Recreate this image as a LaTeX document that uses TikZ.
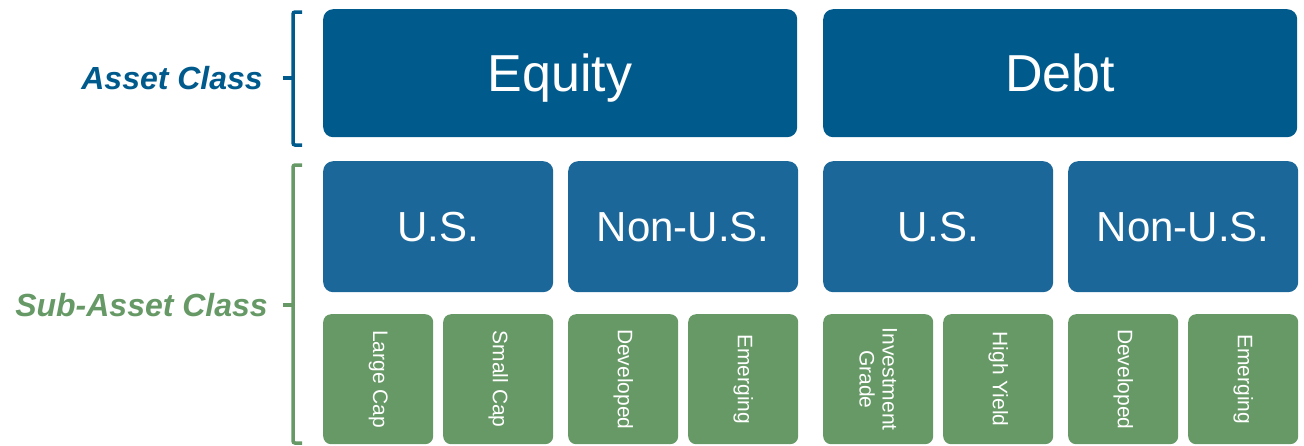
\documentclass[tikz,border=0pt]{standalone}
\usepackage{fontspec}
\setmainfont{Liberation Sans}
\definecolor{dblue}{RGB}{0,90,140}
\definecolor{mblue}{RGB}{27,103,153}
\definecolor{sgreen}{RGB}{102,153,102}
\begin{document}
\begin{tikzpicture}[x=1pt,y=-1pt,
  topbox/.style={fill=dblue, text=white, rounded corners=10pt, inner sep=0pt, anchor=north west,
    minimum width=474pt, minimum height=128pt, text height=37pt, text depth=0pt,
    font=\fontsize{52}{60}\selectfont},
  midbox/.style={fill=mblue, text=white, rounded corners=10pt, inner sep=0pt, anchor=north west,
    minimum width=230pt, minimum height=131pt, text height=30pt, text depth=0pt,
    font=\fontsize{42}{50}\selectfont},
  leafbox/.style={fill=sgreen, rounded corners=8pt, inner sep=0pt, anchor=north west,
    minimum width=110pt, minimum height=130pt},
  leaftext/.style={text=white, rotate=-90, align=center, inner sep=0pt, font=\fontsize{21}{23}\selectfont},
  brack/.style={line width=3.5pt, rounded corners=2pt},
  lab/.style={anchor=east, inner sep=0pt, font=\fontsize{32}{38}\selectfont\bfseries\itshape}
]
\useasboundingbox (0,0) rectangle (1304,445);
% top row
\node[topbox] (equity) at (323,9) {Equity};
\node[topbox] (debt) at (823,9) {Debt};
% middle row
\node[midbox] (eus) at (323,161) {U.S.};
\node[midbox] (enus) at (568,161) {Non-U.S.};
\node[midbox] (dus) at (823,161) {U.S.};
\node[midbox] (dnus) at (1068,161) {Non-U.S.};
% leaf row
\foreach \x/\n/\t in {323/l1/Large Cap, 443/l2/Small Cap, 568/l3/Developed, 688/l4/Emerging,
                      823/l5/{Investment\\Grade}, 943/l6/High Yield, 1068/l7/Developed, 1188/l8/Emerging}{
  \node[leafbox] (\n) at (\x,314) {};
  \node[leaftext] (\n t) at (\n.center) {\t};
}
% brackets
\draw[brack, dblue] (302,12) -- (293,12) -- (293,145) -- (302,145);
\draw[brack, dblue] (293,78) -- (283,78);
\draw[brack, sgreen] (302,165) -- (293,165) -- (293,443) -- (302,443);
\draw[brack, sgreen] (293,305) -- (283,305);
% labels
\node[lab, text=dblue] (assetlab) at (263,78) {Asset Class};
\node[lab, text=sgreen] (sublab) at (268,305) {Sub-Asset Class};
\end{tikzpicture}
\end{document}
